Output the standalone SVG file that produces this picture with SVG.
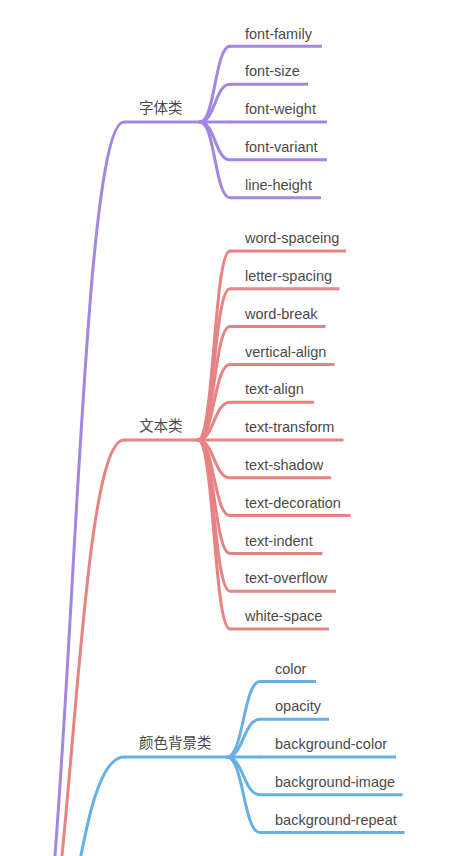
<svg xmlns="http://www.w3.org/2000/svg" width="452" height="856" viewBox="0 0 452 856">
<style>
  .t{font-family:"Liberation Sans","Noto Sans CJK SC",Arial,sans-serif;font-size:14.5px;fill:#4a4a4a}
  .c{font-family:"Noto Sans CJK SC","Liberation Sans",sans-serif;font-size:14.5px;fill:#4a4a4a}
  path,line{fill:none;stroke-width:3}
  .p{stroke:#a386e2}
  .r{stroke:#e88383}
  .b{stroke:#67b0e6}
  .lk{stroke-linecap:round}
</style>
<rect width="452" height="856" fill="#ffffff"/>
<g id="connectors" class="lk">
  <path class="p" d="M20 1050 C72 1050 72 122 124 122"/>
  <path class="r" d="M20 1050 C72 1050 72 440 124 440"/>
  <path class="b" d="M20 1050 C72 1050 72 757 124 757"/>
  <!-- purple children -->
  <path class="p" d="M200 122 C215 122 215 46.3 230 46.3"/>
  <path class="p" d="M200 122 C215 122 215 84.15 230 84.15"/>
  <path class="p" d="M200 122 C215 122 215 122 230 122"/>
  <path class="p" d="M200 122 C215 122 215 159.85 230 159.85"/>
  <path class="p" d="M200 122 C215 122 215 197.7 230 197.7"/>
  <!-- red children -->
  <path class="r" d="M198 440 C214 440 214 251 230 251"/>
  <path class="r" d="M198 440 C214 440 214 288.8 230 288.8"/>
  <path class="r" d="M198 440 C214 440 214 326.6 230 326.6"/>
  <path class="r" d="M198 440 C214 440 214 364.4 230 364.4"/>
  <path class="r" d="M198 440 C214 440 214 402.2 230 402.2"/>
  <path class="r" d="M198 440 C214 440 214 440 230 440"/>
  <path class="r" d="M198 440 C214 440 214 477.8 230 477.8"/>
  <path class="r" d="M198 440 C214 440 214 515.6 230 515.6"/>
  <path class="r" d="M198 440 C214 440 214 553.4 230 553.4"/>
  <path class="r" d="M198 440 C214 440 214 591.2 230 591.2"/>
  <path class="r" d="M198 440 C214 440 214 629 230 629"/>
  <!-- blue children -->
  <path class="b" d="M227 757 C243.5 757 243.5 681.4 260 681.4"/>
  <path class="b" d="M227 757 C243.5 757 243.5 719.2 260 719.2"/>
  <path class="b" d="M227 757 C243.5 757 243.5 757 260 757"/>
  <path class="b" d="M227 757 C243.5 757 243.5 794.8 260 794.8"/>
  <path class="b" d="M227 757 C243.5 757 243.5 832.6 260 832.6"/>
</g>

<g id="cat-font">
  <line class="p" x1="124" y1="122" x2="200" y2="122"/>
  <text class="c" x="139" y="113">字体类</text>
</g>
<g id="font-family"><line class="p" x1="230" y1="46.3" x2="322" y2="46.3"/><text class="t" x="245" y="38.5">font-family</text></g>
<g id="font-size"><line class="p" x1="230" y1="84.15" x2="308" y2="84.15"/><text class="t" x="245" y="76.35">font-size</text></g>
<g id="font-weight"><line class="p" x1="230" y1="122" x2="327" y2="122"/><text class="t" x="245" y="114.2">font-weight</text></g>
<g id="font-variant"><line class="p" x1="230" y1="159.85" x2="327" y2="159.85"/><text class="t" x="245" y="152.05">font-variant</text></g>
<g id="line-height"><line class="p" x1="230" y1="197.7" x2="321" y2="197.7"/><text class="t" x="245" y="189.9">line-height</text></g>

<g id="cat-text">
  <line class="r" x1="124" y1="440" x2="198" y2="440"/>
  <text class="c" x="139" y="431">文本类</text>
</g>
<g id="word-spaceing"><line class="r" x1="230" y1="251" x2="346" y2="251"/><text class="t" x="245" y="243.2">word-spaceing</text></g>
<g id="letter-spacing"><line class="r" x1="230" y1="288.8" x2="339.5" y2="288.8"/><text class="t" x="245" y="281">letter-spacing</text></g>
<g id="word-break"><line class="r" x1="230" y1="326.6" x2="325.5" y2="326.6"/><text class="t" x="245" y="318.8">word-break</text></g>
<g id="vertical-align"><line class="r" x1="230" y1="364.4" x2="334.5" y2="364.4"/><text class="t" x="245" y="356.6">vertical-align</text></g>
<g id="text-align"><line class="r" x1="230" y1="402.2" x2="314" y2="402.2"/><text class="t" x="245" y="394.4">text-align</text></g>
<g id="text-transform"><line class="r" x1="230" y1="440" x2="343.5" y2="440"/><text class="t" x="245" y="432.2">text-transform</text></g>
<g id="text-shadow"><line class="r" x1="230" y1="477.8" x2="331" y2="477.8"/><text class="t" x="245" y="470">text-shadow</text></g>
<g id="text-decoration"><line class="r" x1="230" y1="515.6" x2="350.5" y2="515.6"/><text class="t" x="245" y="507.8">text-decoration</text></g>
<g id="text-indent"><line class="r" x1="230" y1="553.4" x2="322.5" y2="553.4"/><text class="t" x="245" y="545.6">text-indent</text></g>
<g id="text-overflow"><line class="r" x1="230" y1="591.2" x2="336" y2="591.2"/><text class="t" x="245" y="583.4">text-overflow</text></g>
<g id="white-space"><line class="r" x1="230" y1="629" x2="329" y2="629"/><text class="t" x="245" y="621.2">white-space</text></g>

<g id="cat-color">
  <line class="b" x1="124" y1="757" x2="227" y2="757"/>
  <text class="c" x="139" y="748">颜色背景类</text>
</g>
<g id="color"><line class="b" x1="260" y1="681.4" x2="316" y2="681.4"/><text class="t" x="275" y="673.6">color</text></g>
<g id="opacity"><line class="b" x1="260" y1="719.2" x2="329" y2="719.2"/><text class="t" x="275" y="711.4">opacity</text></g>
<g id="background-color"><line class="b" x1="260" y1="757" x2="396" y2="757"/><text class="t" x="275" y="749.2">background-color</text></g>
<g id="background-image"><line class="b" x1="260" y1="794.8" x2="402.5" y2="794.8"/><text class="t" x="275" y="787">background-image</text></g>
<g id="background-repeat"><line class="b" x1="260" y1="832.6" x2="404.5" y2="832.6"/><text class="t" x="275" y="824.8">background-repeat</text></g>
</svg>
